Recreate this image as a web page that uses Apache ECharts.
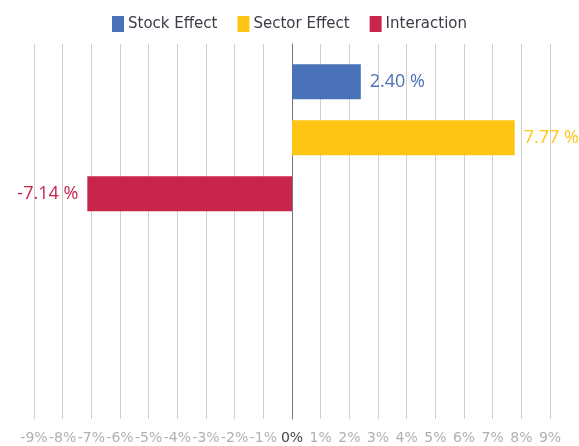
<!DOCTYPE html>
<html>
<head>
<meta charset="utf-8">
<script src="https://cdn.jsdelivr.net/npm/echarts@6/dist/echarts.min.js"></script>
<style>
  html, body { margin: 0; padding: 0; background: #fff; }
  #chart { width: 579px; height: 446px; }
</style>
</head>
<body>
<div id="chart"></div>
<script>
// data
var categories = ['Attribution', '']
var seriesNames = ['Stock Effect', 'Sector Effect', 'Interaction']
var stockEffect = [2.40, '-']
var sectorEffect = [7.77, '-']
var interaction = [-7.14, '-']
var colors = ['#4a72b8', '#ffc515', '#c8254d']

var chart = echarts.init(document.getElementById('chart'))

function barSeries(name, data, color) {
  return {
    name: name,
    type: 'bar',
    data: data,
    barWidth: 35,
    barGap: '60%',
    itemStyle: { color: color },
    label: {
      show: true,
      position: data[0] < 0 ? 'left' : 'right',
      distance: 9,
      color: color,
      fontSize: 18,
      fontFamily: 'Open Sans',
      formatter: function (p) { return p.value.toFixed(2) + ' %' }
    }
  }
}

chart.setOption({
  animation: false,
  color: colors,
  legend: {
    top: 11,
    left: 'center',
    itemWidth: 12,
    itemHeight: 16,
    itemGap: 20,
    icon: 'rect',
    textStyle: { fontSize: 15, color: '#3a3a48', fontFamily: 'DejaVu Sans', padding: [0, 0, 0, -1] },
    data: seriesNames
  },
  grid: {
    left: 34,
    right: 29,
    top: 44,
    bottom: 27
  },
  xAxis: {
    type: 'value',
    min: -9,
    max: 9,
    interval: 1,
    axisLine: { show: false },
    axisTick: { show: false },
    splitLine: { lineStyle: { color: '#cfcfcf', width: 1 } },
    axisLabel: {
      margin: 12,
      fontSize: 14,
      fontFamily: 'DejaVu Sans',
      color: '#b0b0b0',
      formatter: function (v) {
        return v === 0 ? '{z|0%}' : v + '%'
      },
      rich: {
        z: { fontSize: 14, fontFamily: 'DejaVu Sans', color: '#444' }
      }
    }
  },
  yAxis: {
    type: 'category',
    inverse: true,
    data: categories,
    axisLine: { show: true, onZero: true, lineStyle: { color: '#777', width: 1 } },
    axisTick: { show: false },
    axisLabel: { show: false },
    splitLine: { show: false }
  },
  series: [
    barSeries(seriesNames[0], stockEffect, colors[0]),
    barSeries(seriesNames[1], sectorEffect, colors[1]),
    barSeries(seriesNames[2], interaction, colors[2])
  ]
})
</script>
</body>
</html>
